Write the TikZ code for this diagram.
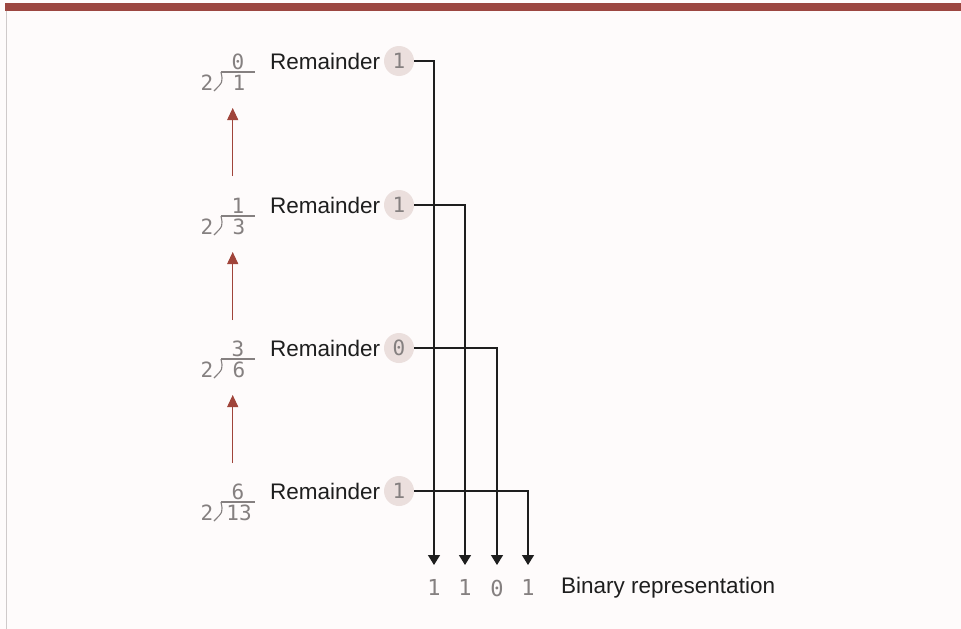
\documentclass[tikz,border=0pt]{standalone}
\usepackage{fontspec}
\setmainfont{Liberation Sans}
\newfontfamily\digitfont{DejaVu Sans Mono}
\usetikzlibrary{arrows.meta}
\definecolor{bgcol}{HTML}{FEFBFB}
\definecolor{barcol}{HTML}{9C4640}
\definecolor{framecol}{HTML}{CFCACA}
\definecolor{circcol}{HTML}{EBDFDD}
\definecolor{digcol}{HTML}{858080}
\definecolor{linecol}{HTML}{1E1E1E}
\definecolor{upline}{HTML}{9A9090}
\definecolor{uphead}{HTML}{A0443A}
\tikzset{
  label text/.style={font=\fontsize{22.5}{26}\selectfont, text=linecol, inner sep=0pt, anchor=west},
  digit/.style={font=\digitfont\fontsize{21}{24}\selectfont, text=digcol, inner sep=0pt},
  remcirc/.style={circle, fill=circcol, minimum size=30pt, inner sep=0pt, font=\digitfont\fontsize{21}{24}\selectfont, text=digcol},
  bitnode/.style={font=\digitfont\fontsize{22}{24}\selectfont, text=digcol, inner xsep=0pt, inner ysep=14.5pt, anchor=north},
  connector/.style={draw=linecol, line width=1.4pt, -{Triangle[width=12pt,length=10pt]}},
  upconn/.style={draw=upline, line width=1.1pt, -{Triangle[width=11pt,length=12pt,fill=uphead]}, uphead},
  bracket/.style={draw=digcol, line width=1.1pt},
}
\begin{document}
\begin{tikzpicture}[x=1pt,y=-1pt]
\useasboundingbox (0,0) rectangle (961,629);
\fill[bgcol] (0,0) rectangle (961,629);
\fill[barcol] (5,3) rectangle (961,10.5);
\draw[framecol, line width=0.8pt] (6,10.5) -- (6,629);

% rows: quotient, divisor, dividend, bracket, remainder
\foreach \i/\r/\q/\n/\b in {1/61/0/1/1, 2/205/1/3/1, 3/348/3/6/0, 4/491/6/13/1}{
  \node[digit] (q\i) at (238,\r+1) {\q};
  \node[digit] (d\i) at (207,\r+22) {2};
  \node[digit] (n\i) at (239,\r+22) {\n};
  \draw[bracket] (221,\r+11) -- (255,\r+11);
  \draw[bracket] (221,\r+11) .. controls (223,\r+21) .. (214,\r+30);
  \node[label text] (rem\i) at (270,\r) {Remainder};
  \node[remcirc] (c\i) at (399,\r) {\b};
}

% bits
\node[bitnode] (b1) at (434,565) {1};
\node[bitnode] (b2) at (465,565) {1};
\node[bitnode] (b3) at (497,565) {0};
\node[bitnode] (b4) at (528,565) {1};
\node[label text] (binlabel) at (561,588) {Binary representation};

% connectors
\draw[connector] (c1.east) -| (b1.north);
\draw[connector] (c2.east) -| (b2.north);
\draw[connector] (c3.east) -| (b3.north);
\draw[connector] (c4.east) -| (b4.north);

% up arrows
\coordinate (t2) at (232.7,176);
\coordinate (h1) at (232.7,108);
\coordinate (t3) at (232.7,320);
\coordinate (h2) at (232.7,252);
\coordinate (t4) at (232.7,463);
\coordinate (h3) at (232.7,395);
\draw[upconn] (t2) -- (h1);
\draw[upconn] (t3) -- (h2);
\draw[upconn] (t4) -- (h3);
\end{tikzpicture}
\end{document}
